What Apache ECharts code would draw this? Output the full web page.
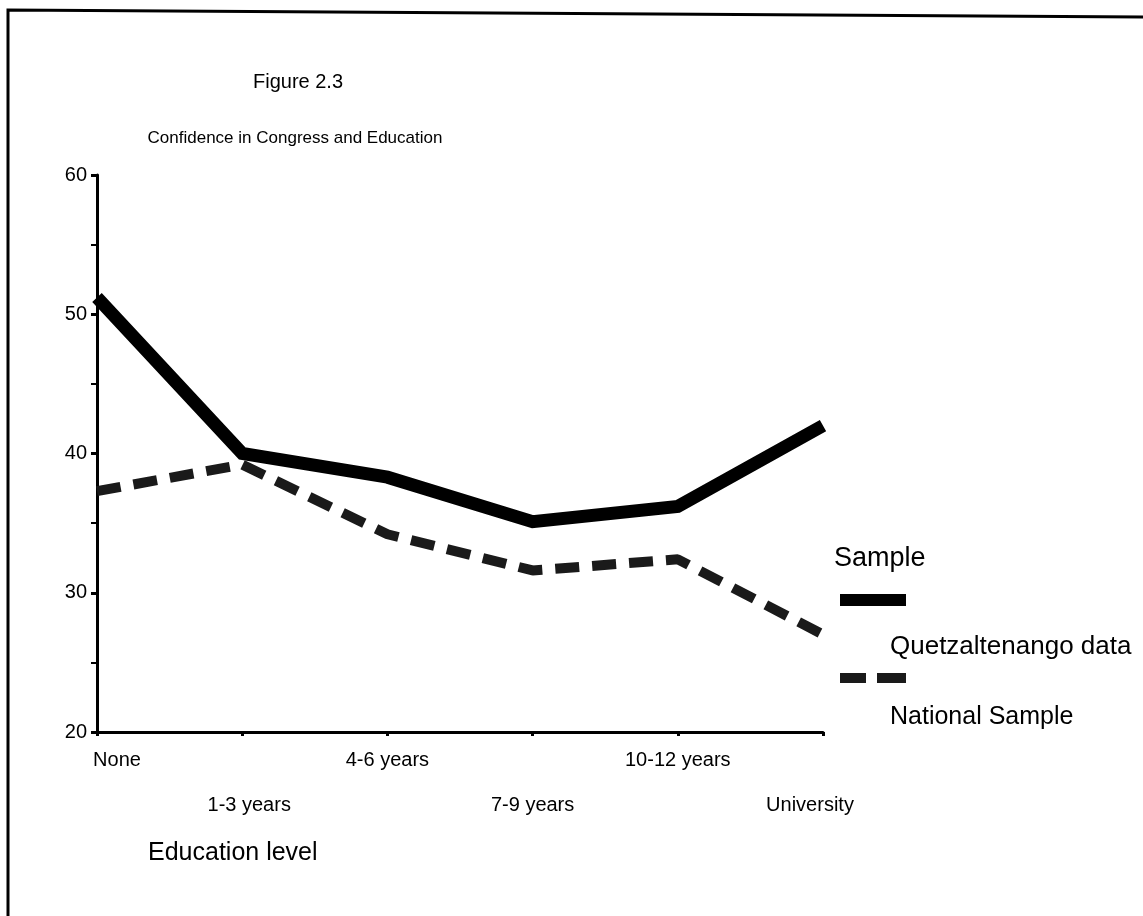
<!DOCTYPE html>
<html>
<head>
<meta charset="utf-8">
<script src="https://cdn.jsdelivr.net/npm/echarts@6/dist/echarts.min.js"></script>
<style>
  html, body { margin: 0; padding: 0; background: #fff; }
  #chart { width: 1143px; height: 916px; }
</style>
</head>
<body>
<div id="chart"></div>
<script>
const educationLevels = ['None', '1-3 years', '4-6 years', '7-9 years', '10-12 years', 'University'];
const quetzaltenango = [51.2, 40.0, 38.3, 35.1, 36.2, 42.0];
const nationalSample = [37.3, 39.2, 34.2, 31.6, 32.4, 27.0];
const yTicks = [20, 30, 40, 50, 60];

const font = '"Liberation Sans", Arial, Helvetica, sans-serif';
const ink = '#000';

const chartInstance = echarts.init(document.getElementById('chart'));

// small horizontal nudges so the staggered labels sit where the original put them
const labelShift = ['n', 'r', null, null, null, 'l'];

const labelBase = { fontFamily: font, fontSize: 20, color: ink, lineHeight: 45 };

const option = {
  backgroundColor: '#fff',
  animation: false,
  textStyle: { fontFamily: font, color: ink },
  title: [
    {
      text: 'Figure 2.3',
      left: 293,
      top: 67,
      textAlign: 'center',
      textStyle: { fontFamily: font, fontSize: 20, fontWeight: 'normal', color: ink }
    },
    {
      text: 'Confidence in Congress and Education',
      left: 290,
      top: 125,
      textAlign: 'center',
      textStyle: { fontFamily: font, fontSize: 17, fontWeight: 'normal', color: ink }
    }
  ],
  grid: { left: 97, right: 320, top: 175, bottom: 184, containLabel: false },
  xAxis: {
    type: 'category',
    data: educationLevels,
    boundaryGap: false,
    axisLine: { lineStyle: { color: ink, width: 3 } },
    axisTick: { show: true, length: 4, lineStyle: { color: ink, width: 3 } },
    axisLabel: {
      interval: 0,
      margin: 6,
      ...labelBase,
      formatter: (value, idx) => {
        const text = labelShift[idx] ? '{' + labelShift[idx] + '|' + value + '}' : value;
        return idx % 2 === 1 ? '\n' + text : text;
      },
      rich: {
        n: { ...labelBase, padding: [0, 0, 0, 40] },
        r: { ...labelBase, padding: [0, 0, 0, 14] },
        l: { ...labelBase, padding: [0, 26, 0, 0] }
      }
    },
    splitLine: { show: false }
  },
  yAxis: {
    type: 'value',
    min: yTicks[0],
    max: yTicks[yTicks.length - 1],
    interval: 10,
    axisLine: { show: true, lineStyle: { color: ink, width: 3 } },
    axisTick: { show: true, length: 6, lineStyle: { color: ink, width: 3 } },
    minorTick: { show: true, splitNumber: 2, length: 6, lineStyle: { color: ink, width: 2 } },
    axisLabel: { margin: 10, fontFamily: font, fontSize: 20, color: ink },
    splitLine: { show: false }
  },
  series: [
    {
      name: 'Quetzaltenango data',
      type: 'line',
      data: quetzaltenango,
      symbol: 'none',
      lineStyle: { color: ink, width: 13, cap: 'butt', join: 'miter' }
    },
    {
      name: 'National Sample',
      type: 'line',
      data: nationalSample,
      symbol: 'none',
      lineStyle: { color: '#1a1a1a', width: 10, type: [24, 13], cap: 'butt' }
    }
  ],
  graphic: [
    // frame around the figure
    { type: 'polyline', shape: { points: [[8, 916], [8, 10], [1143, 17]] }, style: { stroke: ink, lineWidth: 3, fill: null } },
    // legend
    { type: 'text', left: 834, top: 545, style: { text: 'Sample', font: '27px ' + font, fill: ink } },
    { type: 'rect', shape: { x: 840, y: 594, width: 66, height: 12 }, style: { fill: ink } },
    { type: 'text', left: 890, top: 634, style: { text: 'Quetzaltenango data', font: '26px ' + font, fill: ink } },
    { type: 'rect', shape: { x: 840, y: 673, width: 26, height: 10 }, style: { fill: '#1a1a1a' } },
    { type: 'rect', shape: { x: 877, y: 673, width: 29, height: 10 }, style: { fill: '#1a1a1a' } },
    { type: 'text', left: 890, top: 705, style: { text: 'National Sample', font: '25px ' + font, fill: ink } },
    // axis title
    { type: 'text', left: 148, top: 841, style: { text: 'Education level', font: '25px ' + font, fill: ink } }
  ]
};

chartInstance.setOption(option);
</script>
</body>
</html>
